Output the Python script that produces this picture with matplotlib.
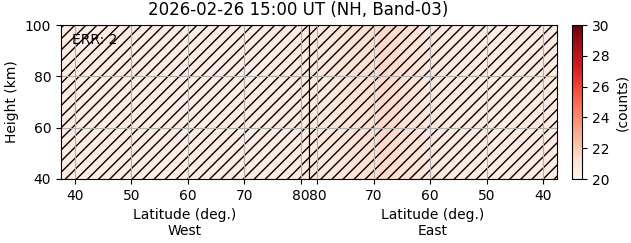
import numpy as np
import matplotlib

matplotlib.use("Agg")
import matplotlib.pyplot as plt
from matplotlib.patches import Rectangle

# latitude bin edges (deg.), shared by both hemispheres
lat_edges = [37.5, 39.5, 41.5, 43.5, 45.5, 47.5, 49.5, 51.5, 53.5, 55.5, 57.5,
             59.5, 61.5, 63.5, 65.5, 67.5, 69.5, 71.5, 73.5, 75.5, 77.5, 79.5, 81.5]
height_edges = [40, 50, 60, 70, 80, 90, 100]

# counts per latitude bin (low -> high latitude)
west_counts = [20.6, 20.5, 20.5, 20.5, 20.5, 20.5, 20.5, 20.5, 20.5, 20.5, 20.5,
               20.5, 20.5, 20.5, 20.5, 20.5, 20.5, 20.5, 20.5, 20.6, 20.6, 20.7]
east_counts = [20.6, 20.6, 20.6, 20.6, 20.5, 20.5, 20.5, 20.6, 20.6, 20.7, 20.8,
               20.9, 21.1, 21.2, 21.4, 21.5, 21.3, 21.2, 21.1, 20.9, 20.8, 20.8]

title = "2026-02-26 15:00 UT (NH, Band-03)"
err_count = 2
vmin, vmax = 20, 30

fig = plt.figure(figsize=(6.31, 2.43), dpi=100)
ax_w = fig.add_axes([61 / 631, 64 / 243, 248 / 631, 154 / 243])
ax_e = fig.add_axes([309 / 631, 64 / 243, 248 / 631, 154 / 243])
cax = fig.add_axes([572 / 631, 64 / 243, 10 / 631, 154 / 243])

mesh = None
for ax, counts, side in ((ax_w, west_counts, "West"), (ax_e, east_counts, "East")):
    grid = np.tile(counts, (len(height_edges) - 1, 1))
    mesh = ax.pcolormesh(lat_edges, height_edges, grid, cmap="Reds",
                         vmin=vmin, vmax=vmax, shading="flat")
    ax.add_patch(Rectangle((0, 0), 1, 1, transform=ax.transAxes, facecolor="none",
                           edgecolor="black", linewidth=0, hatch="///"))
    ax.set_ylim(40, 100)
    ax.set_yticks([40, 60, 80, 100])
    ax.set_xticks([40, 50, 60, 70, 80])
    ax.grid(True)
    ax.set_xlabel(f"Latitude (deg.)\n{side}")

ax_w.set_xlim(37.5, 81.5)
ax_e.set_xlim(81.5, 37.5)
ax_e.tick_params(left=False, labelleft=False)
ax_w.set_ylabel("Height (km)")
ax_w.text(0.045, 0.95, f"ERR: {err_count}", transform=ax_w.transAxes, va="top")

cb = fig.colorbar(mesh, cax=cax)
cb.set_ticks([20, 22, 24, 26, 28, 30])
cb.set_label("(counts)")

fig.text(298 / 631, 0.995, title, ha="center", va="top", fontsize=12)

fig.savefig("out.png", dpi=100)
